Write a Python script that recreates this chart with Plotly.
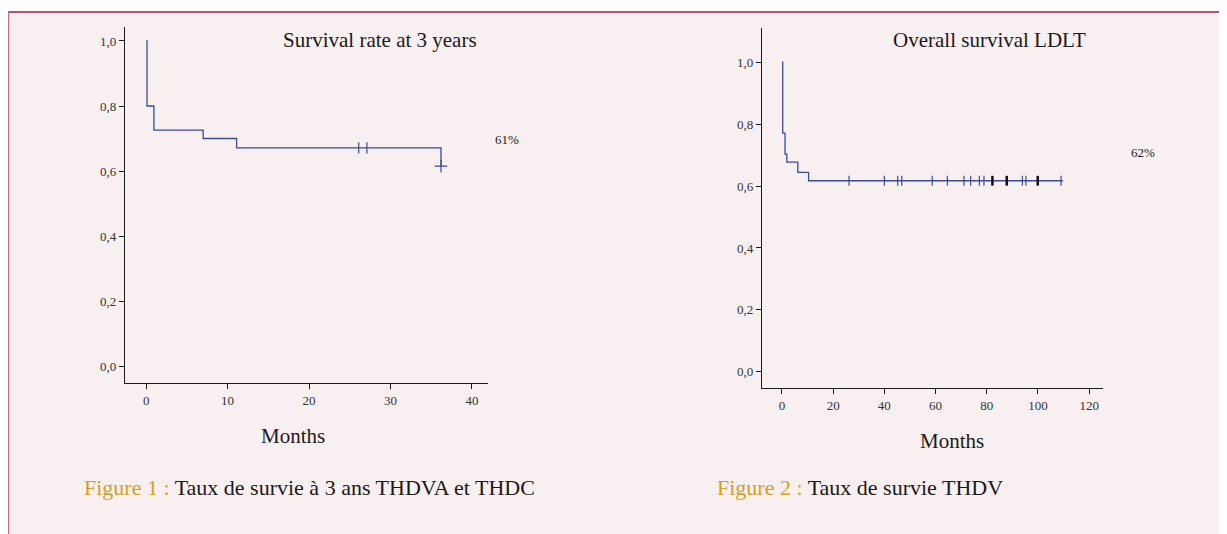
import plotly.graph_objects as go

# ---- data ----
times1 = [0, 0.1, 0.95, 7.0, 11.1, 36.2]
surv1 = [1.0, 0.80, 0.726, 0.70, 0.671, 0.615]
cens1_x = [26.1, 27.1]
cens1_y = [0.671, 0.671]
final1_x = [36.2]
final1_y = [0.615]

times2 = [0, 0.3, 1.2, 1.9, 6.2, 10.4, 109.8]
surv2 = [1.0, 0.771, 0.703, 0.677, 0.644, 0.617, 0.617]
cens2_x = [26.2, 40.0, 45.2, 46.8, 58.7, 64.6, 71.1, 73.7, 77.1, 78.9, 93.9, 95.3, 109.0]
bold2_x = [82.2, 87.8, 99.9]
plateau2 = 0.617

yticks = [0.0, 0.2, 0.4, 0.6, 0.8, 1.0]
ytick_labels = ["0,0", "0,2", "0,4", "0,6", "0,8", "1,0"]
xticks1 = [0, 10, 20, 30, 40]
xticks2 = [0, 20, 40, 60, 80, 100, 120]

OFF = 8  # page body margin
W, H = 1227 - OFF, 534 - OFF
def px(x): return (x - OFF) / W
def py(y): return 1 - (y - OFF) / H

LINE = "#3b4b9c"
FONT = "Liberation Serif"
BG = "#f8eff0"

fig = go.Figure()

# panel 1
fig.add_trace(go.Scatter(x=times1, y=surv1, mode="lines", line=dict(color=LINE, width=1.3, shape="hv"),
                         xaxis="x", yaxis="y", showlegend=False, hoverinfo="skip"))
fig.add_trace(go.Scatter(x=cens1_x, y=cens1_y, mode="markers",
                         marker=dict(symbol="line-ns", size=8, line=dict(color=LINE, width=1.2)),
                         xaxis="x", yaxis="y", showlegend=False))
fig.add_trace(go.Scatter(x=final1_x, y=final1_y, mode="markers",
                         marker=dict(symbol="cross-thin", size=9, line=dict(color=LINE, width=1.2)),
                         xaxis="x", yaxis="y", showlegend=False))

# panel 2
fig.add_trace(go.Scatter(x=times2, y=surv2, mode="lines", line=dict(color=LINE, width=1.3, shape="hv"),
                         xaxis="x2", yaxis="y2", showlegend=False, hoverinfo="skip"))
fig.add_trace(go.Scatter(x=cens2_x, y=[plateau2] * len(cens2_x), mode="markers",
                         marker=dict(symbol="line-ns", size=7, line=dict(color=LINE, width=1.2)),
                         xaxis="x2", yaxis="y2", showlegend=False))
fig.add_trace(go.Scatter(x=bold2_x, y=[plateau2] * len(bold2_x), mode="markers",
                         marker=dict(symbol="line-ns", size=7, line=dict(color="#111111", width=2.5)),
                         xaxis="x2", yaxis="y2", showlegend=False))

axis_common = dict(showgrid=False, zeroline=False, showline=True, linecolor="#1a1a1a", linewidth=1.3,
                   ticks="outside", ticklen=5, tickcolor="#1a1a1a", tickwidth=1.2,
                   tickfont=dict(family=FONT, size=13, color="#333333"))

fig.update_layout(
    width=W, height=H, margin=dict(l=0, r=0, t=0, b=0),
    paper_bgcolor="white", plot_bgcolor="rgba(0,0,0,0)",
    xaxis=dict(domain=[px(125), px(488)], range=[-2.6, 41.97], tickvals=xticks1, anchor="y", **axis_common),
    yaxis=dict(domain=[py(383), py(27)], range=[-0.052, 1.043], tickvals=yticks, ticktext=ytick_labels, anchor="x", **axis_common),
    xaxis2=dict(domain=[px(762), px(1103)], range=[-7.8, 125.4], tickvals=xticks2, anchor="y2", **axis_common),
    yaxis2=dict(domain=[py(388), py(28)], range=[-0.052, 1.11], tickvals=yticks, ticktext=ytick_labels, anchor="x2", **axis_common),
)

shapes = [
    dict(type="rect", xref="paper", yref="paper", x0=px(8), x1=1, y0=0, y1=py(12), fillcolor=BG, line=dict(width=0), layer="below"),
    dict(type="line", xref="paper", yref="paper", x0=px(8), x1=1, y0=py(12), y1=py(12), line=dict(color="#9c1d48", width=1.5)),
    dict(type="line", xref="paper", yref="paper", x0=px(8.5), x1=px(8.5), y0=0, y1=py(12), line=dict(color="#c76a8c", width=1.5)),
]
fig.update_layout(shapes=shapes)

ann = [
    dict(text="Survival rate at 3 years", x=px(380), y=py(40), size=21, color="#1a1a1a"),
    dict(text="Overall survival LDLT", x=px(990), y=py(40), size=21, color="#1a1a1a"),
    dict(text="61%", x=px(507), y=py(140), size=13, color="#1a1a1a"),
    dict(text="62%", x=px(1143), y=py(153), size=13, color="#1a1a1a"),
    dict(text="Months", x=px(293), y=py(436), size=21, color="#1a1a1a"),
    dict(text="Months", x=px(952), y=py(441), size=21, color="#1a1a1a"),
    dict(text="<span style='color:#d4a020'>Figure 1 :</span> Taux de survie à 3 ans THDVA et THDC",
         x=px(309), y=py(487), size=22, color="#1a1a1a"),
    dict(text="<span style='color:#d4a020'>Figure 2 :</span> Taux de survie THDV",
         x=px(860), y=py(487), size=22, color="#1a1a1a"),
]
fig.update_layout(annotations=[
    dict(text=a["text"], x=a["x"], y=a["y"], xref="paper", yref="paper", showarrow=False,
         xanchor="center", yanchor="middle", font=dict(family=FONT, size=a["size"], color=a["color"]))
    for a in ann
])

fig.write_html("out.html")
